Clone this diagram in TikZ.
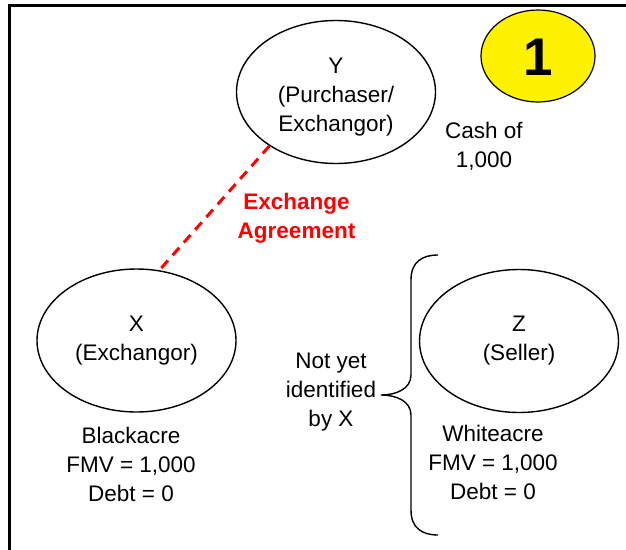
\documentclass[tikz,border=0pt]{standalone}
\usepackage{fontspec}
\setmainfont{Liberation Sans}
\usetikzlibrary{shapes.geometric}
\begin{document}
\begin{tikzpicture}[x=1pt,y=-1pt,
  party/.style={draw=black, line width=1.4pt, ellipse, minimum width=199pt, minimum height=143pt, inner sep=0pt},
  lab/.style={font=\fontsize{22.5}{29}\selectfont, align=center, inner sep=0pt},
  redlab/.style={lab, font=\fontsize{22.5}{29}\selectfont\bfseries, text={rgb,255:red,255;green,0;blue,0}},
  agree/.style={draw={rgb,255:red,255;green,0;blue,0}, line width=3pt, dash pattern=on 10pt off 7pt},
  bracestyle/.style={draw=black, line width=1.4pt}]
\useasboundingbox (0,0) rectangle (626,549);
\begin{scope}
\clip (0,0) rectangle (626,549);
\draw[line width=3.5pt] (9.5,570) -- (9.5,5.5) -- (650,5.5);
\end{scope}
% badge
\node[draw=black, line width=1.2pt, fill=yellow, ellipse, minimum width=114pt, minimum height=92pt, inner sep=0pt] (badge) at (538,56) {};
\node[font=\fontsize{53}{60}\selectfont\bfseries, inner sep=0pt] (one) at (538,57) {1};
% parties
\node[party] (Y) at (336,92) {};
\node[lab] (Ylab) at (336,97) {Y\\(Purchaser/\\Exchangor)};
\node[party] (X) at (136.5,340.5) {};
\node[lab] (Xlab) at (136.5,341) {X\\(Exchangor)};
\node[party] (Z) at (519,341) {};
\node[lab] (Zlab) at (519,341) {Z\\(Seller)};
% exchange agreement
\draw[agree] (Y.219) -- (X.72);
\node[redlab] (agr) at (296.5,218) {Exchange\\Agreement};
% labels
\node[lab] (cash) at (484,146.5) {Cash of\\1,000};
\node[lab] (black) at (131,464) {Blackacre\\FMV = 1,000\\Debt = 0};
\node[lab] (white) at (493,462) {Whiteacre\\FMV = 1,000\\Debt = 0};
\node[lab] (noty) at (331,392) {Not yet\\identified\\by X};
% brace
\coordinate (btop) at (438,255);
\coordinate (btip) at (381,395);
\coordinate (bbot) at (438,535);
\draw[bracestyle] (btop) .. controls (422,255) and (411,262) .. (411,280)
  -- (411,375) .. controls (411,389) and (396,395) .. (btip)
  .. controls (396,395) and (411,401) .. (411,415)
  -- (411,510) .. controls (411,528) and (422,535) .. (bbot);
\end{tikzpicture}
\end{document}
